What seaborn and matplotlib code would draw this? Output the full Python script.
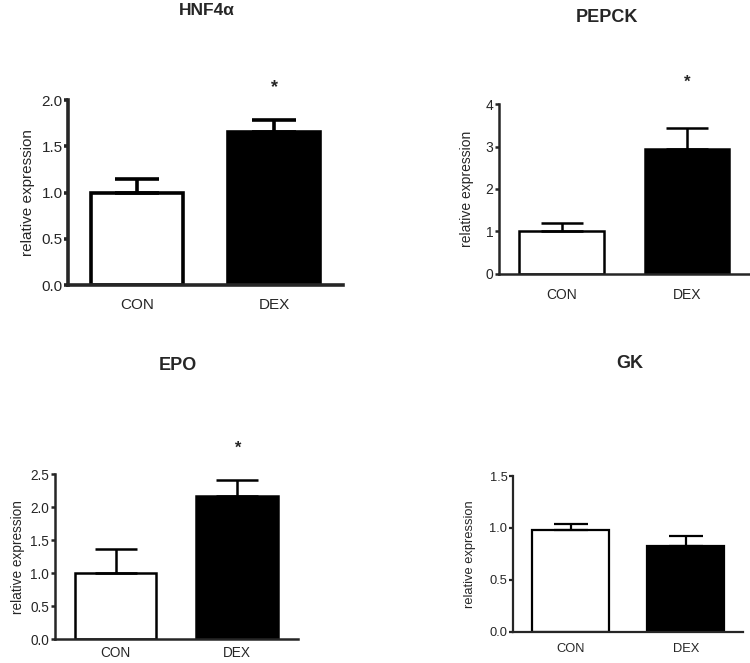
import matplotlib
matplotlib.use('Agg')
import matplotlib.pyplot as plt
import seaborn as sns
import pandas as pd

# groups and values
groups = ['CON', 'DEX']
genes = ['HNF4\u03b1', 'PEPCK', 'EPO', 'GK']
means = {
    'HNF4\u03b1': [1.00, 1.66],
    'PEPCK': [1.00, 2.95],
    'EPO': [1.00, 2.17],
    'GK': [0.98, 0.83],
}
sem = {
    'HNF4\u03b1': [0.15, 0.12],
    'PEPCK': [0.20, 0.48],
    'EPO': [0.37, 0.24],
    'GK': [0.06, 0.09],
}
significant = {
    'HNF4\u03b1': [False, True],
    'PEPCK': [False, True],
    'EPO': [False, True],
    'GK': [False, False],
}
y_max = {'HNF4\u03b1': 2.0, 'PEPCK': 4, 'EPO': 2.5, 'GK': 1.5}
y_ticks = {
    'HNF4\u03b1': [0.0, 0.5, 1.0, 1.5, 2.0],
    'PEPCK': [0, 1, 2, 3, 4],
    'EPO': [0.0, 0.5, 1.0, 1.5, 2.0, 2.5],
    'GK': [0.0, 0.5, 1.0, 1.5],
}
star_y = {'HNF4\u03b1': 2.14, 'PEPCK': 4.52, 'EPO': 2.89, 'GK': None}

sns.set_style('ticks')
plt.rcParams['font.family'] = ['Liberation Sans', 'DejaVu Sans']

fig = plt.figure(figsize=(7.5, 6.63), dpi=100)

# axes rectangles (left, bottom, width, height) and per-panel styling
layout = {
    'HNF4\u03b1': dict(rect=[0.091, 0.570, 0.366, 0.279], fs=11, lw=2.6, cap=16,
                       title_xy=(0.276, 0.984), title_fs=12.5, label_pad=5, xpad=9),
    'PEPCK': dict(rect=[0.665, 0.587, 0.335, 0.256], fs=10, lw=1.8, cap=15,
                  title_xy=(0.809, 0.974), title_fs=13, label_pad=8, xpad=10),
    'EPO': dict(rect=[0.073, 0.036, 0.324, 0.249], fs=9.8, lw=1.8, cap=15,
                title_xy=(0.237, 0.449), title_fs=13, label_pad=4, xpad=5),
    'GK': dict(rect=[0.684, 0.047, 0.307, 0.235], fs=9.3, lw=1.6, cap=12,
               title_xy=(0.840, 0.452), title_fs=13, label_pad=10, xpad=8),
}

for gene in genes:
    cfg = layout[gene]
    ax = fig.add_axes(cfg['rect'])
    df = pd.DataFrame({'group': groups, 'value': means[gene]})
    sns.barplot(data=df, x='group', y='value', hue='group',
                palette=['white', 'black'], edgecolor='black',
                linewidth=cfg['lw'], width=0.67, legend=False, ax=ax)
    ax.errorbar(range(len(groups)), means[gene],
                yerr=[[0] * len(groups), sem[gene]],
                fmt='none', ecolor='black', elinewidth=cfg['lw'],
                capsize=cfg['cap'], capthick=cfg['lw'], zorder=1)
    for i, sig in enumerate(significant[gene]):
        if sig:
            ax.text(i, star_y[gene], '*', ha='center', va='center',
                    fontsize=cfg['fs'] + 2, fontweight='bold', clip_on=False)

    ax.set_xlim(-0.5, 1.5)
    ax.set_ylim(0, y_max[gene])
    ax.set_yticks(y_ticks[gene])
    if gene == 'PEPCK':
        ax.set_yticklabels([str(t) for t in y_ticks[gene]])
    else:
        ax.set_yticklabels([f'{t:.1f}' for t in y_ticks[gene]])
    ax.set_xlabel('')
    ax.set_ylabel('relative expression', fontsize=cfg['fs'], labelpad=cfg['label_pad'])
    ax.tick_params(axis='y', labelsize=cfg['fs'], length=3, width=cfg['lw'], pad=1)
    ax.tick_params(axis='x', labelsize=cfg['fs'], length=0, pad=cfg['xpad'])
    sns.despine(ax=ax)
    for side in ['left', 'bottom']:
        ax.spines[side].set_linewidth(cfg['lw'])
    ax.set_facecolor('white')

    fig.text(cfg['title_xy'][0], cfg['title_xy'][1], gene, ha='center', va='center',
             fontsize=cfg['title_fs'], fontweight='bold')

fig.savefig('out.png', dpi=100, facecolor='white')
